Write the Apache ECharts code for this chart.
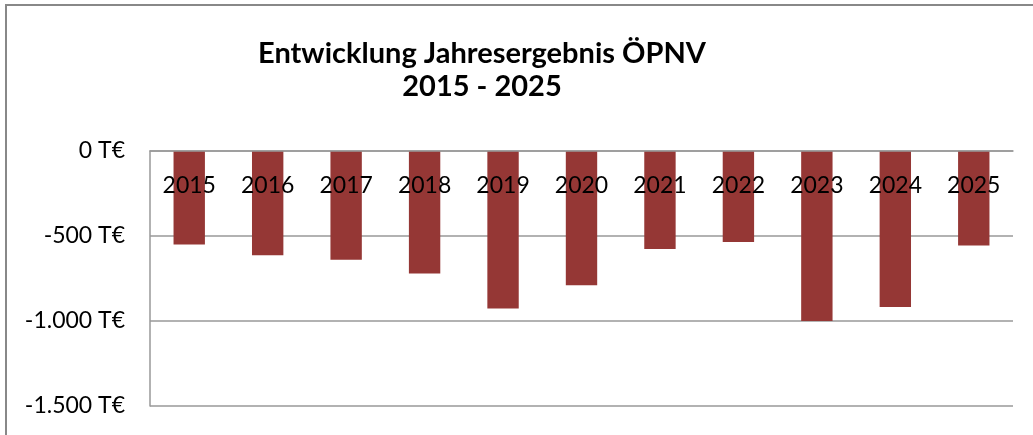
<!DOCTYPE html>
<html>
<head>
<meta charset="utf-8">
<script src="https://cdn.jsdelivr.net/npm/echarts@6/dist/echarts.min.js"></script>
<style>
  html, body { margin: 0; padding: 0; background: #fff; }
  #chart { width: 1033px; height: 435px; }
</style>
</head>
<body>
<div id="chart"></div>
<script>
// Jahresergebnis ÖPNV in Tausend Euro
const years = ['2015', '2016', '2017', '2018', '2019', '2020', '2021', '2022', '2023', '2024', '2025'];
const results = [-550, -613, -640, -720, -926, -789, -576, -536, -1000, -918, -556];
const titleLines = ['Entwicklung Jahresergebnis ÖPNV', '2015 - 2025'];

const FONT = 'Lato, "Open Sans", sans-serif';

// German number format: thousands separated by a dot
function formatTEuro(v) {
  const sign = v < 0 ? '-' : '';
  const s = String(Math.abs(Math.round(v))).replace(/\B(?=(\d{3})+(?!\d))/g, '.');
  return sign + s + ' T€';
}

const chart = echarts.init(document.getElementById('chart'), null, { renderer: 'canvas' });
chart.setOption({
  animation: false,
  backgroundColor: '#ffffff',
  title: {
    text: titleLines.join('\n'),
    left: 477,
    top: 32,
    textAlign: 'center',
    textStyle: {
      fontFamily: FONT,
      fontWeight: 'bold',
      fontSize: 29,
      lineHeight: 33,
      color: '#000'
    }
  },
  graphic: [{
    type: 'rect',
    silent: true,
    shape: { x: 6, y: 5, width: 1060, height: 460 },
    style: { fill: null, stroke: '#888888', lineWidth: 2 }
  }],
  grid: { left: 150, right: 20, top: 151, bottom: 29, containLabel: false, outerBoundsMode: 'none' },
  xAxis: {
    type: 'category',
    position: 'top',
    data: years,
    z: 5,
    axisLine: { lineStyle: { color: '#999999', width: 1.5 } },
    axisTick: { show: false },
    axisLabel: {
      inside: true,
      margin: 23,
      fontFamily: FONT,
      fontSize: 23,
      color: '#000'
    }
  },
  yAxis: {
    type: 'value',
    min: -1500,
    max: 0,
    interval: 500,
    axisLine: { show: true, lineStyle: { color: '#999999', width: 1.5 } },
    axisTick: { show: false },
    splitLine: { lineStyle: { color: '#999999', width: 1.5 } },
    axisLabel: {
      margin: 25,
      fontFamily: FONT,
      fontSize: 23,
      color: '#000',
      formatter: formatTEuro
    }
  },
  series: [{
    type: 'bar',
    data: results,
    barWidth: '40%',
    itemStyle: { color: '#953735' }
  }]
});
</script>
</body>
</html>
